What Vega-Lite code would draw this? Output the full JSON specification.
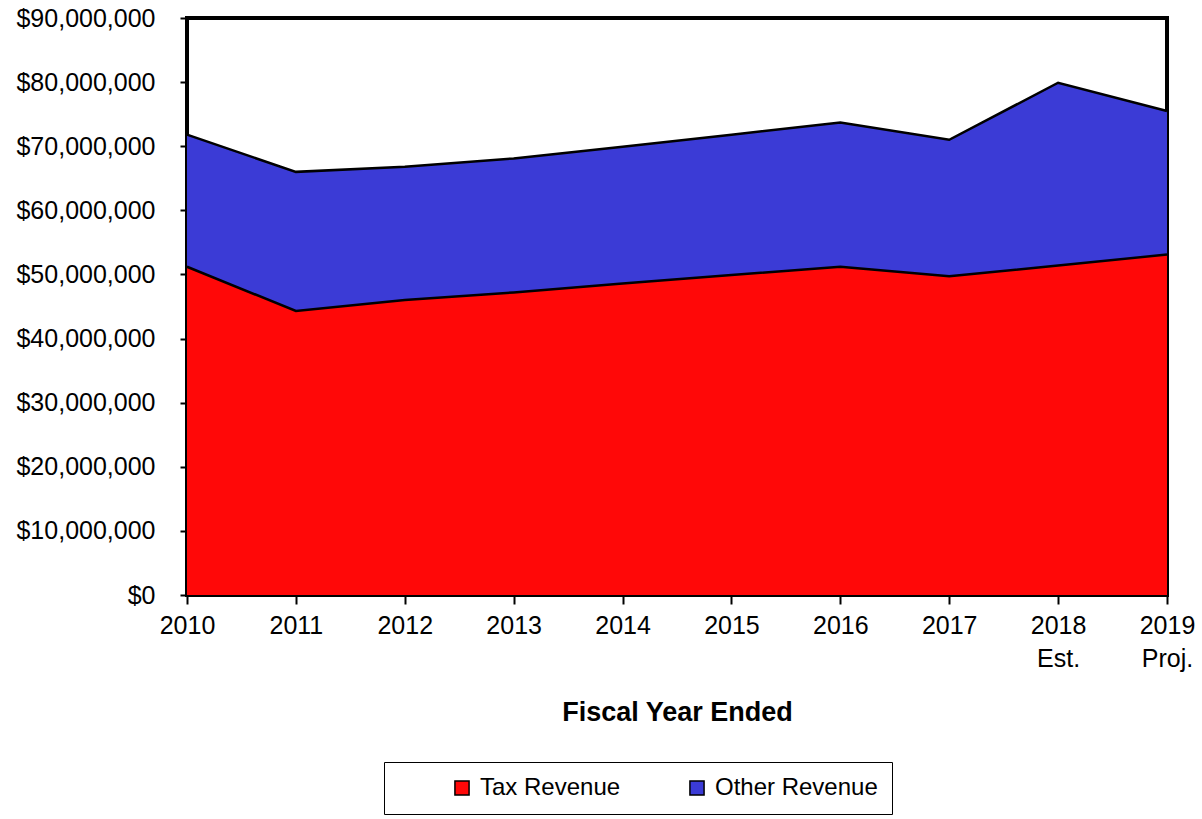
{
  "$schema": "https://vega.github.io/schema/vega-lite/v6.json",
  "width": 980,
  "height": 577,
  "autosize": {"type": "none"},
  "padding": {"left": 187, "top": 18, "right": 35, "bottom": 224},
  "background": "white",
  "config": {
    "font": "Liberation Sans",
    "view": {"stroke": "black", "strokeWidth": 4}
  },
  "data": {
    "values": [
      {"year": 2010, "series": "Tax Revenue", "amount": 51200000},
      {"year": 2011, "series": "Tax Revenue", "amount": 44300000},
      {"year": 2012, "series": "Tax Revenue", "amount": 46000000},
      {"year": 2013, "series": "Tax Revenue", "amount": 47200000},
      {"year": 2014, "series": "Tax Revenue", "amount": 48600000},
      {"year": 2015, "series": "Tax Revenue", "amount": 49900000},
      {"year": 2016, "series": "Tax Revenue", "amount": 51200000},
      {"year": 2017, "series": "Tax Revenue", "amount": 49700000},
      {"year": 2018, "series": "Tax Revenue", "amount": 51400000},
      {"year": 2019, "series": "Tax Revenue", "amount": 53100000},
      {"year": 2010, "series": "Other Revenue", "amount": 20600000},
      {"year": 2011, "series": "Other Revenue", "amount": 21700000},
      {"year": 2012, "series": "Other Revenue", "amount": 20800000},
      {"year": 2013, "series": "Other Revenue", "amount": 20900000},
      {"year": 2014, "series": "Other Revenue", "amount": 21300000},
      {"year": 2015, "series": "Other Revenue", "amount": 21900000},
      {"year": 2016, "series": "Other Revenue", "amount": 22500000},
      {"year": 2017, "series": "Other Revenue", "amount": 21300000},
      {"year": 2018, "series": "Other Revenue", "amount": 28500000},
      {"year": 2019, "series": "Other Revenue", "amount": 22400000}
    ]
  },
  "encoding": {
    "x": {
      "field": "year",
      "type": "quantitative",
      "scale": {"domain": [2010, 2019], "nice": false, "zero": false},
      "axis": {
        "values": [2010, 2010.5, 2011, 2011.5, 2012, 2012.5, 2013, 2013.5, 2014, 2014.5, 2015, 2015.5, 2016, 2016.5, 2017, 2017.5, 2018, 2018.5, 2019],
        "format": "d",
        "labelExpr": "datum.value == 2018 ? ['2018','Est.'] : datum.value == 2019 ? ['2019','Proj.'] : (datum.value % 1 == 0 ? datum.label : '')",
        "labelOverlap": false,
        "labelBound": false,
        "labelFlush": false,
        "labelFontSize": 25,
        "labelColor": "black",
        "labelPadding": 9,
        "labelLineHeight": 33,
        "grid": false,
        "domain": false,
        "zindex": 1,
        "tickColor": "black",
        "tickWidth": 2,
        "tickSize": {"condition": {"test": "datum.value % 1 != 0", "value": -5}, "value": 9},
        "title": "Fiscal Year Ended",
        "titleFontSize": 27,
        "titleFontWeight": "bold",
        "titleColor": "black",
        "titlePadding": 28
      }
    },
    "y": {
      "field": "amount",
      "type": "quantitative",
      "stack": "zero",
      "scale": {"domain": [0, 90000000], "nice": false},
      "axis": {
        "values": [0, 10000000, 20000000, 30000000, 40000000, 50000000, 60000000, 70000000, 80000000, 90000000],
        "format": "$,d",
        "labelFontSize": 25,
        "labelColor": "black",
        "labelPadding": 25,
        "grid": false,
        "domain": false,
        "tickColor": "black",
        "tickWidth": 2,
        "tickSize": 7,
        "title": null
      }
    }
  },
  "layer": [
    {
      "mark": {"type": "area", "opacity": 1},
      "encoding": {
        "color": {
          "field": "series",
          "type": "nominal",
          "scale": {"domain": ["Tax Revenue", "Other Revenue"], "range": ["#ff0808", "#3b3bd6"]},
          "legend": {
            "orient": "none",
            "direction": "horizontal",
            "legendX": 197,
            "legendY": 744,
            "title": " ",
            "titleOrient": "left",
            "titlePadding": 52,
            "titleFontSize": 10,
            "padding": 14,
            "strokeColor": "black",
            "fillColor": "white",
            "symbolType": "square",
            "symbolSize": 200,
            "symbolStrokeColor": "black",
            "symbolStrokeWidth": 1.5,
            "symbolOpacity": 1,
            "labelFontSize": 24,
            "labelColor": "black",
            "labelOffset": 6,
            "labelLimit": 500,
            "columnPadding": 64,
            "labelExpr": "datum.label == 'Other Revenue' ? 'Other Revenue       ' : datum.label"
          }
        }
      }
    },
    {
      "mark": {"type": "line", "color": "black", "strokeWidth": 2.5},
      "encoding": {
        "detail": {"field": "series", "type": "nominal"}
      }
    }
  ]
}
